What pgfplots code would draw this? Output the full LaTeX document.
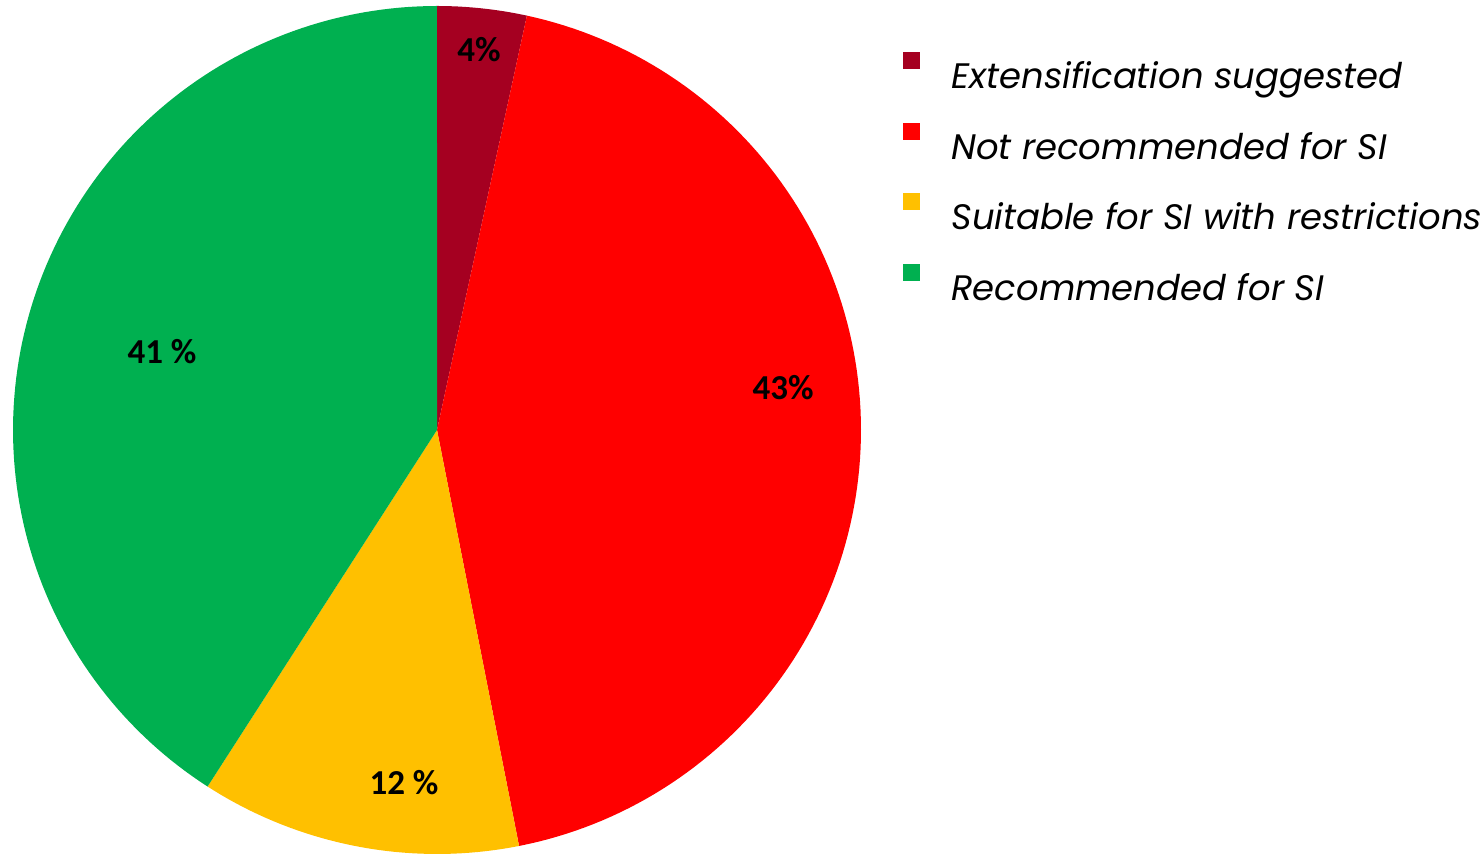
\documentclass[border=0pt]{standalone}
\usepackage{fontspec}
\setmainfont{Carlito}
\newfontfamily\legfont{Poppins}
\usepackage{pgfplots}
\pgfplotsset{compat=1.18}
\definecolor{cBrown}{HTML}{A50021}
\definecolor{cRed}{HTML}{FF0000}
\definecolor{cYellow}{HTML}{FFC000}
\definecolor{cGreen}{HTML}{00B050}
% shares in percent (clockwise from top)
\def\va{3.4}\def\vb{43.5}\def\vc{12.2}\def\vd{40.9}
\pgfmathsetmacro\aA{0}
\pgfmathsetmacro\aB{\aA+3.6*\va}
\pgfmathsetmacro\aC{\aB+3.6*\vb}
\pgfmathsetmacro\aD{\aC+3.6*\vc}
\pgfmathsetmacro\aE{\aD+3.6*\vd}
\def\cx{437}\def\cy{424}\def\rr{424}
\begin{document}
\begin{tikzpicture}
\begin{axis}[
  width=741pt, height=427pt, scale only axis,
  xmin=0, xmax=1482, ymin=0, ymax=854,
  hide axis, clip=false,
  legend style={at={(axis cs:897,806)}, anchor=north west, draw=none, fill=none,
    font=\legfont\itshape\fontsize{17.7}{20}\selectfont,
    row sep=17pt, column sep=0pt,
    nodes={inner sep=0pt, text depth=0pt}},
  legend cell align=left,
  legend image code/.code={\fill[#1] (0pt,3pt) rectangle (8.5pt,11.5pt);},
]
\addplot[fill=cBrown, draw=none, domain=\aA:\aB, samples=30, variable=t]
  ({\cx+\rr*sin(t)},{\cy+\rr*cos(t)}) -- (axis cs:\cx,\cy) -- cycle;
\addlegendentry{\hspace{15.5pt}Extensification suggested}
\addplot[fill=cRed, draw=none, domain=\aB:\aC, samples=120, variable=t]
  ({\cx+\rr*sin(t)},{\cy+\rr*cos(t)}) -- (axis cs:\cx,\cy) -- cycle;
\addlegendentry{\hspace{15.5pt}Not recommended for SI}
\addplot[fill=cYellow, draw=none, domain=\aC:\aD, samples=40, variable=t]
  ({\cx+\rr*sin(t)},{\cy+\rr*cos(t)}) -- (axis cs:\cx,\cy) -- cycle;
\addlegendentry{\hspace{15.5pt}Suitable for SI with restrictions}
\addplot[fill=cGreen, draw=none, domain=\aD:\aE, samples=120, variable=t]
  ({\cx+\rr*sin(t)},{\cy+\rr*cos(t)}) -- (axis cs:\cx,\cy) -- cycle;
\addlegendentry{\hspace{15.5pt}Recommended for SI}
\begin{scope}[every node/.style={font=\bfseries\fontsize{17.5}{19}\selectfont}]
\node at (axis cs:479,804) {4\%};
\node at (axis cs:783,466) {43\%};
\node at (axis cs:404,71) {12 \%};
\node at (axis cs:162,502) {41 \%};
\end{scope}
\coordinate (bl) at (axis cs:0,0);
\coordinate (tr) at (axis cs:1482,854);
\end{axis}
\pgfresetboundingbox
\path (bl) rectangle (tr);
\end{tikzpicture}
\end{document}
